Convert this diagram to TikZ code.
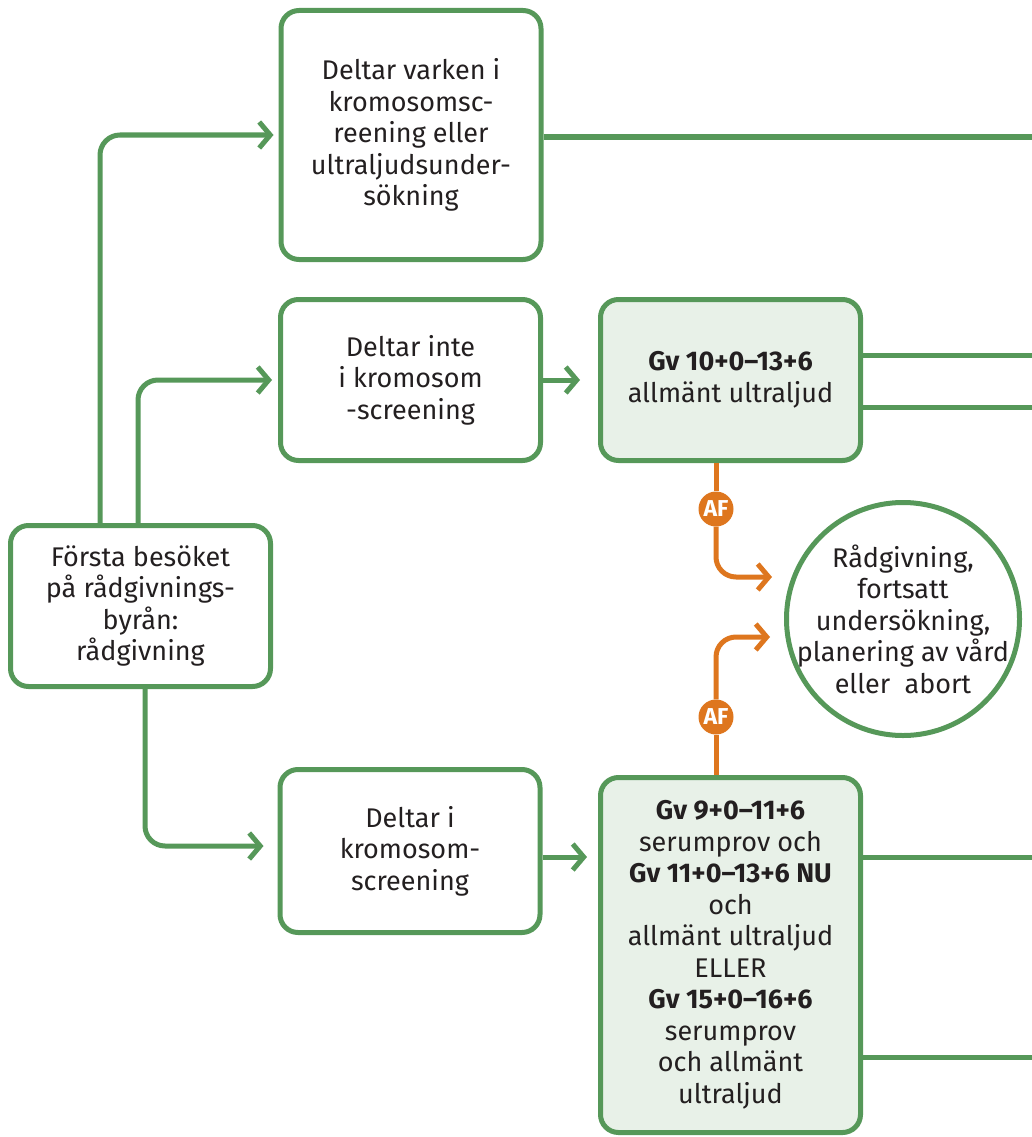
\documentclass[tikz,border=0pt]{standalone}
\usepackage{fontspec}
\setmainfont{Fira Sans}
\usetikzlibrary{positioning}
\usetikzlibrary{arrows.meta}
\definecolor{mvcgreen}{RGB}{86,152,89}
\definecolor{mvcfill}{RGB}{232,241,232}
\definecolor{mvcorange}{RGB}{222,118,30}
\definecolor{mvctext}{RGB}{35,31,32}

\begin{document}
\begin{tikzpicture}[
        x=1pt, y=-1pt,
        font=\fontsize{27}{31.5}\selectfont,
        node distance=35pt and 55pt,
        step_box/.style={rectangle, draw=mvcgreen, line width=5pt, rounded corners=18pt, text=mvctext, align=center, minimum width=260pt, minimum height=161pt, inner sep=0pt},
        test_box/.style={step_box, fill=mvcfill},
        result/.style={circle, draw=mvcgreen, line width=5pt, text=mvctext, align=center, minimum size=233pt, inner sep=-30pt, outer sep=2.5pt},
        af_badge/.style={circle, fill=mvcorange, text=white, font=\fontsize{23}{23}\selectfont\bfseries, minimum size=35pt, inner sep=0pt},
        arrow/.style={draw=mvcgreen, line width=5pt, -{Straight Barb[length=11pt,width=26pt]}, rounded corners=20pt},
        line/.style={draw=mvcgreen, line width=5pt},
        af_arrow/.style={draw=mvcorange, line width=5pt, -{Straight Barb[length=11pt,width=26pt]}, rounded corners=20pt},
        af_line/.style={draw=mvcorange, line width=5pt}
    ]
        \useasboundingbox (0,0) rectangle (1031,1137);

        % Rutor
        \node[step_box] (visit) at (140.5,606) {Första besöket\\på rådgivnings-\\byrån:\\rådgivning};
        \node[step_box, minimum height=249pt] (none) at (411,135) {Deltar varken i\\kromosomsc-\\reening eller\\ultraljudsunder-\\sökning};
        \node[step_box] (noscreen) at (410.5,380) {Deltar inte\\i kromosom\\-screening};
        \node[test_box] (us) [right=55pt of noscreen] {\textbf{Gv 10+0–13+6}\\allmänt ultraljud};
        \node[step_box, minimum height=163pt] (screen) at (410,851) {Deltar i\\kromosom-\\screening};
        \node[test_box, minimum height=355pt] (combined) [below=312pt of us] {\textbf{Gv 9+0–11+6}\\serumprov och\\\textbf{Gv 11+0–13+6 NU}\\och\\allmänt ultraljud\\ELLER\\\textbf{Gv 15+0–16+6}\\serumprov\\och allmänt\\ultraljud};
        \node[result] (advice) at (903,619) {Rådgivning,\\fortsatt\\undersökning,\\planering av vård\\eller~ abort};

        % AF-markeringar
        \node[af_badge] (af1) at (716,509) {AF};
        \node[af_badge] (af2) at (716,717) {AF};

        % Fria ändpunkter
        \coordinate (edge1) at (1035,137);
        \coordinate (edge2) at (1035,355);
        \coordinate (edge3) at (1035,407);
        \coordinate (edge4) at (1035,857);
        \coordinate (edge5) at (1035,1057);
        \coordinate (tip1) at (772,577);
        \coordinate (tip2) at (770,637);

        % Flöde från första besöket
        \draw[arrow] ([xshift=-40.5pt]visit.north) |- ([xshift=-5pt]none.west);
        \draw[arrow] ([xshift=-2.5pt]visit.north) |- ([xshift=-6pt]noscreen.west);
        \draw[arrow] ([xshift=4.5pt]visit.south) |- ([xshift=-14pt,yshift=5pt]screen.west);
        \draw[arrow] (noscreen.east) -- ([xshift=-18pt]us.west);
        \draw[arrow] (screen.east |- edge4) -- ([xshift=-11pt]combined.west |- edge4);

        % Linjer till höger
        \draw[line] (none.east |- edge1) -- (edge1);
        \draw[line] (us.east |- edge2) -- (edge2);
        \draw[line] (us.east |- edge3) -- (edge3);
        \draw[line] (combined.east |- edge4) -- (edge4);
        \draw[line] (combined.east |- edge5) -- (edge5);

        % AF-flöde
        \draw[af_line] ([xshift=-14.5pt]us.south) -- (af1);
        \draw[af_arrow] (af1) |- (tip1);
        \draw[af_line] ([xshift=-14.5pt]combined.north) -- (af2);
        \draw[af_arrow] (af2) |- (tip2);
    \end{tikzpicture}
\end{document}
